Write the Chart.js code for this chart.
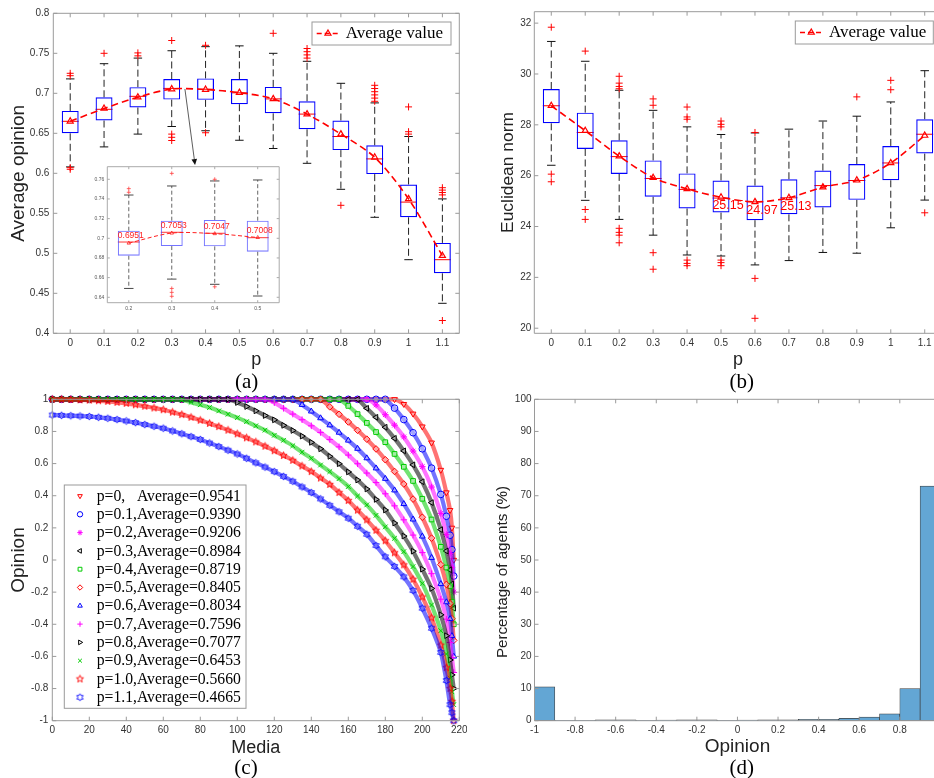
<!DOCTYPE html>
<html>
<head>
<meta charset="utf-8">
<title>Opinion dynamics figure</title>
<script src="https://cdn.jsdelivr.net/npm/chart.js@4.4.1/dist/chart.umd.min.js"></script>
<style>
  html, body { margin:0; padding:0; background:#ffffff; overflow:hidden; }
  body { position:relative; width:934px; height:778px; }
  canvas { position:absolute; }
  .cap { position:absolute; font-family:'Liberation Serif','Times New Roman',serif; font-size:21px; color:#000;
         line-height:1; transform:translate(-50%,-50%); white-space:nowrap; }
</style>
</head>
<body>
<canvas id="chartA" width="467" height="372" style="left:0px;top:0px"></canvas>
<canvas id="chartB" width="483" height="372" style="left:467px;top:0px"></canvas>
<canvas id="chartC" width="467" height="370" style="left:0px;top:390px"></canvas>
<canvas id="chartD" width="483" height="370" style="left:467px;top:390px"></canvas>
<canvas id="chartInset" width="200" height="160" style="left:84px;top:160px"></canvas>
<div class="cap" style="left:246.7px;top:381px">(a)</div>
<div class="cap" style="left:741.7px;top:381px">(b)</div>
<div class="cap" style="left:246px;top:766.5px">(c)</div>
<div class="cap" style="left:741.7px;top:766.5px">(d)</div>
<script>
// ======================= DATA =======================
const pLabels = ['0','0.1','0.2','0.3','0.4','0.5','0.6','0.7','0.8','0.9','1','1.1'];

// (a) Average opinion vs p : box-plot statistics
const opQ1   = [0.650, 0.666, 0.6823, 0.6921, 0.6918, 0.6864, 0.675, 0.655, 0.629, 0.599, 0.545, 0.475];
const opQ3   = [0.678, 0.695, 0.7077, 0.7179, 0.7186, 0.7179, 0.708, 0.690, 0.666, 0.635, 0.586, 0.513];
const opMed  = [0.665, 0.680, 0.6962, 0.7061, 0.7051, 0.7006, 0.693, 0.674, 0.646, 0.618, 0.564, 0.492];
const opLo   = [0.608, 0.633, 0.649, 0.6585, 0.6532, 0.6413, 0.631, 0.6125, 0.580, 0.545, 0.492, 0.4375];
const opHi   = [0.718, 0.737, 0.744, 0.7532, 0.7583, 0.7593, 0.750, 0.740, 0.7125, 0.688, 0.646, 0.568];
const opMean = [0.665, 0.681, 0.6951, 0.7053, 0.7047, 0.7008, 0.693, 0.674, 0.649, 0.620, 0.568, 0.497];
const opOut  = [[0.725,0.722,0.607,0.605],[0.750],[0.7505,0.7468],[0.766,0.649,0.645,0.641],[0.760,0.6507],[],
                [0.775],[0.756,0.752,0.748,0.744],[0.560],[0.710,0.706,0.702,0.698,0.694,0.690],
                [0.683,0.652,0.649],[0.582,0.579,0.576,0.573,0.416]];
const opTicks = [0.4,0.45,0.5,0.55,0.6,0.65,0.7,0.75,0.8];
const insetIdx = [2,3,4,5];
const insetTicks = [0.64,0.66,0.68,0.7,0.72,0.74,0.76];
const arrowFrom = [3.39, 0.7054];
const arrowTo = [3.69, 0.6104];

// (b) Euclidean norm vs p : box-plot statistics
const enQ1   = [28.06, 27.05, 26.07, 25.17, 24.71, 24.55, 24.25, 24.48, 24.75, 25.05, 25.82, 26.87];
const enQ3   = [29.41, 28.48, 27.39, 26.60, 26.09, 25.81, 25.61, 25.86, 26.20, 26.46, 27.17, 28.22];
const enMed  = [28.75, 27.70, 26.75, 25.89, 25.46, 25.12, 24.97, 25.13, 25.61, 25.81, 26.50, 27.63];
const enLo   = [26.41, 25.03, 24.28, 23.66, 22.88, 22.84, 22.49, 22.66, 22.98, 22.95, 23.95, 25.04];
const enHi   = [31.28, 30.50, 29.36, 28.57, 27.92, 27.62, 27.68, 27.83, 28.15, 28.34, 28.90, 30.13];
const enMean = [28.75, 27.77, 26.77, 25.92, 25.48, 25.15, 24.97, 25.13, 25.55, 25.82, 26.50, 27.58];
const enOut  = [[31.84,26.06,25.76],[30.90,24.67,24.28],[29.91,29.64,29.51,29.42,23.93,23.77,23.66,23.36],
                [29.02,28.77,22.97,22.32],[28.70,28.31,28.22,22.68,22.55,22.46],[28.15,28.02,27.92,22.68,22.58,22.46],
                [27.70,21.96,20.39],[],[],[29.10],[29.75,29.38],[24.54]];
const enTicks = [20,22,24,26,28,30,32];
const enLabelIdx = [5,6,7];

// (c) Opinion of each media, for each p
const media = [0,5,10,15,20,25,30,35,40,45,50,55,60,65,70,75,80,85,90,95,100,105,110,115,120,125,130,135,140,145,
               150,155,160,165,170,175,180,185,190,195,200,205,210,213,215,216,217];
const curveP00 = [1,1,1,1,1,1,1,1,1,1, 1,1,1,1,1,1,1,1,1,1, 1,1,1,1,1,1,1,1,1,1, 1,1,1,1,1,1,1,1,
                  0.97,0.91,0.83,0.73,0.56,0.42,0.31,0.2,0.0];
const curveP01 = [1,1,1,1,1,1,1,1,1,1, 1,1,1,1,1,1,1,1,1,1, 1,1,1,1,1,1,1,1,1,1, 1,1,1,1,1,1,1,
                  0.945,0.874,0.792,0.692,0.572,0.408,0.272,0.154,0.065,-0.1];
const curveP02 = [1,1,1,1,1,1,1,1,1,1, 1,1,1,1,1,1,1,1,1,1, 1,1,1,1,1,1,1,1,1,1, 1,1,1,1,1,
                  0.965,0.904,0.839,0.766,0.678,0.581,0.454,0.29,0.158,0.042,-0.046,-0.2];
const curveP03 = [1,1,1,1,1,1,1,1,1,1, 1,1,1,1,1,1,1,1,1,1, 1,1,1,1,1,1,1,1,1,1, 1,1,1,1,
                  0.944,0.888,0.826,0.757,0.679,0.592,0.487,0.357,0.189,0.056,-0.061,-0.149,-0.3];
const curveP04 = [1,1,1,1,1,1,1,1,1,1, 1,1,1,1,1,1,1,1,1,1, 1,1,1,1,1,1,1,1,1,1, 1,1,
                  0.959,0.908,0.853,0.796,0.733,0.66,0.58,0.492,0.381,0.252,0.082,-0.047,-0.163,-0.26,-0.4];
const curveP05 = [1,1,1,1,1,1,1,1,1,1, 1,1,1,1,1,1,1,1,1,1, 1,1,1,1,1,1,1,1,1,1,
                  0.953,0.907,0.859,0.807,0.752,0.691,0.624,0.551,0.473,0.379,0.266,0.136,-0.029,-0.152,-0.272,-0.365,-0.5];
const curveP06 = [1,1,1,1,1,1,1,1,1,1, 1,1,1,1,1,1,1,1,1,1, 1,1,1,1,1,1,1,
                  0.966,0.925,0.883,0.839,0.793,0.744,0.693,0.634,0.571,0.506,0.434,0.349,0.253,0.147,0.014,-0.149,
                  -0.262,-0.366,-0.472,-0.6];
const curveP07 = [1,1,1,1,1,1,1,1,1,1, 1,1,1,1,1,1,1,1,1,1, 1,1,1,1,
                  0.979,0.944,0.908,0.873,0.835,0.794,0.75,0.704,0.653,0.599,0.541,0.482,0.412,0.337,0.25,0.155,0.046,
                  -0.085,-0.244,-0.368,-0.513,-0.607,-0.7];
const curveP08 = [1,1,1,1,1,1,1,1,1,1, 1,1,1,1,1,1,1,1,1,1,
                  0.98,0.955,0.928,0.899,0.872,0.838,0.806,0.771,0.732,0.692,0.645,0.599,0.548,0.498,0.442,0.377,0.311,
                  0.23,0.149,0.055,-0.057,-0.177,-0.341,-0.471,-0.622,-0.715,-0.8];
const curveP09 = [1,1,1,1,1,1,1,1,1,1, 1,1,1,1,
                  0.997,0.981,0.966,0.949,0.928,0.907,0.886,0.861,0.835,0.808,0.776,0.745,0.711,0.671,0.633,0.591,0.55,
                  0.506,0.457,0.398,0.343,0.278,0.206,0.135,0.052,-0.041,-0.146,-0.28,-0.44,-0.585,-0.735,-0.82,-0.9];
const curveP10 = [1,1,0.999,0.997,0.995,0.991,0.987,0.981,0.975,0.966,0.957,0.946,0.935,0.92,0.905,0.888,0.87,0.85,
                  0.83,0.808,0.785,0.76,0.735,0.708,0.68,0.65,0.62,0.585,0.55,0.51,0.47,0.42,0.37,0.31,0.25,0.185,0.12,
                  0.045,-0.03,-0.12,-0.23,-0.36,-0.53,-0.67,-0.8,-0.88,-1.0];
const curveP11 = [0.902,0.900,0.898,0.896,0.893,0.888,0.882,0.874,0.865,0.855,0.843,0.832,0.82,0.803,0.786,0.768,0.75,
                  0.728,0.706,0.683,0.66,0.633,0.605,0.578,0.55,0.52,0.49,0.455,0.42,0.38,0.34,0.30,0.26,0.21,0.16,
                  0.09,0.02,-0.04,-0.105,-0.19,-0.30,-0.425,-0.575,-0.75,-0.9,-0.95,-1.0];
const cLegendText = ['p=0,   Average=0.9541','p=0.1,Average=0.9390','p=0.2,Average=0.9206','p=0.3,Average=0.8984',
                     'p=0.4,Average=0.8719','p=0.5,Average=0.8405','p=0.6,Average=0.8034','p=0.7,Average=0.7596',
                     'p=0.8,Average=0.7077','p=0.9,Average=0.6453','p=1.0,Average=0.5660','p=1.1,Average=0.4665'];
const cTicksX = [0,20,40,60,80,100,120,140,160,180,200,220];
const cTicksY = [-1,-0.8,-0.6,-0.4,-0.2,0,0.2,0.4,0.6,0.8,1];

// (d) Histogram of opinions
const binCenters = [-0.95,-0.85,-0.75,-0.65,-0.55,-0.45,-0.35,-0.25,-0.15,-0.05,0.05,0.15,0.25,0.35,0.45,0.55,0.65,0.75,0.85,0.95];
const binPercent = [10.5,0.1,0.1,0.3,0.3,0.1,0.2,0.3,0.3,0.1,0.2,0.3,0.3,0.4,0.4,0.7,1.1,2.1,10.0,73.0];
const dTicksX = [-1,-0.8,-0.6,-0.4,-0.2,0,0.2,0.4,0.6,0.8,1];
const dTicksY = [0,10,20,30,40,50,60,70,80,90,100];

// ======================= STYLES / HELPERS =======================
Chart.defaults.font.family = "'Liberation Sans', Arial, Helvetica, sans-serif";
Chart.defaults.color = '#333';
Chart.defaults.animation = false;
Chart.defaults.events = [];
Chart.defaults.plugins.legend.display = false;
Chart.defaults.plugins.tooltip.enabled = false;

const fmt = v => String(Math.round(v * 1e6) / 1e6);
function sizeFit(size) {
  return s => {
    if (s.isHorizontal()) { s.height = size; s.paddingLeft = 0; s.paddingRight = 0; }
    else { s.width = size; s.paddingTop = 0; s.paddingBottom = 0; }
  };
}
function titleCfg(o) {
  return o.title ? {display: true, text: o.title, font: {size: o.tfs}, color: '#222', padding: o.tpad} : {display: false};
}
function linAxis(o) {
  return {
    type: 'linear', min: o.min, max: o.max, bounds: 'data', offset: false,
    grid: {display: false, drawTicks: false}, border: {display: false},
    ticks: {padding: o.pad, font: {size: o.fs || 10}, color: o.tc || '#333', autoSkip: false,
            maxRotation: 0, minRotation: 0, callback: fmt},
    afterBuildTicks: s => { s.ticks = o.ticks.map(v => ({value: v})); },
    title: titleCfg(o),
    afterFit: sizeFit(o.size)
  };
}
function catAxis(o) {
  return {
    type: 'category', labels: o.labels, offset: true,
    grid: {display: false, drawTicks: false, offset: false}, border: {display: false},
    ticks: {padding: o.pad, font: {size: o.fs || 10}, color: o.tc || '#333', autoSkip: false, maxRotation: 0, minRotation: 0},
    title: titleCfg(o),
    afterFit: sizeFit(o.size)
  };
}
function outlierPts(labels, lists) {
  const pts = [];
  lists.forEach((vals, i) => vals.forEach(v => pts.push({x: labels[i], y: v})));
  return pts;
}
function drawMarker(ctx, style, rot, r, x, y, color, lw) {
  ctx.save();
  ctx.strokeStyle = color; ctx.fillStyle = 'rgba(0,0,0,0)'; ctx.lineWidth = lw || 1;
  if (Chart.helpers && Chart.helpers.drawPoint) {
    Chart.helpers.drawPoint(ctx, {pointStyle: style, rotation: rot, radius: r, borderWidth: lw || 1}, x, y);
  } else {
    ctx.beginPath(); ctx.arc(x, y, r, 0, Math.PI * 2); ctx.stroke();
  }
  ctx.restore();
}
function starImage(points, outer, inner, color) {
  const size = Math.ceil(outer * 2 + 3);
  const c = document.createElement('canvas'); c.width = size; c.height = size;
  const g = c.getContext('2d'); g.strokeStyle = color; g.lineWidth = 0.9;
  g.beginPath();
  for (let k = 0; k < points * 2; k++) {
    const r = k % 2 ? inner : outer;
    const ang = -Math.PI / 2 + k * Math.PI / points;
    const px = size / 2 + r * Math.cos(ang), py = size / 2 + r * Math.sin(ang);
    if (k === 0) g.moveTo(px, py); else g.lineTo(px, py);
  }
  g.closePath(); g.stroke();
  return c;
}
function withAlpha(hex, a) {
  const n = parseInt(hex.slice(1), 16);
  return 'rgba(' + ((n >> 16) & 255) + ',' + ((n >> 8) & 255) + ',' + (n & 255) + ',' + a + ')';
}

// Matlab-like frame with inward ticks on all sides
function makeFrame(color, tickLen) {
  return {
    id: 'mframe',
    afterDatasetsDraw(chart) {
      const {ctx, chartArea: a} = chart;
      const xs = chart.scales.x, ys = chart.scales.y;
      ctx.save();
      ctx.strokeStyle = color; ctx.lineWidth = 1;
      ctx.beginPath();
      ctx.rect(a.left, a.top, a.right - a.left, a.bottom - a.top);
      xs.ticks.forEach((t, i) => {
        const px = xs.getPixelForTick(i);
        ctx.moveTo(px, a.bottom); ctx.lineTo(px, a.bottom - tickLen);
        ctx.moveTo(px, a.top); ctx.lineTo(px, a.top + tickLen);
      });
      ys.ticks.forEach((t, i) => {
        const py = ys.getPixelForTick(i);
        ctx.moveTo(a.left, py); ctx.lineTo(a.left + tickLen, py);
        ctx.moveTo(a.right, py); ctx.lineTo(a.right - tickLen, py);
      });
      ctx.stroke();
      ctx.restore();
    }
  };
}

// whiskers, caps and medians of box plots (boxes themselves are floating bars)
function makeBoxPlugin(st) {
  return {
    id: 'boxWhisk',
    beforeDatasetsDraw(chart) {
      const {ctx} = chart;
      const xs = chart.scales.x, ys = chart.scales.y;
      const step = xs.getPixelForValue(1) - xs.getPixelForValue(0);
      const seg = (x1, y1, x2, y2) => { ctx.beginPath(); ctx.moveTo(x1, y1); ctx.lineTo(x2, y2); ctx.stroke(); };
      ctx.save();
      ctx.lineWidth = st.lw;
      for (let i = 0; i < st.q1.length; i++) {
        const cx = xs.getPixelForValue(i);
        const yq1 = ys.getPixelForValue(st.q1[i]), yq3 = ys.getPixelForValue(st.q3[i]);
        const ylo = ys.getPixelForValue(st.lo[i]), yhi = ys.getPixelForValue(st.hi[i]);
        ctx.strokeStyle = st.whisk; ctx.setLineDash(st.dash);
        seg(cx, yq3, cx, yhi); seg(cx, yq1, cx, ylo);
        ctx.setLineDash([]);
        ctx.strokeStyle = st.capColor;
        const cw = step * st.cap / 2;
        seg(cx - cw, yhi, cx + cw, yhi); seg(cx - cw, ylo, cx + cw, ylo);
        const bw = step * st.box / 2;
        ctx.strokeStyle = st.medColor;
        const ym = ys.getPixelForValue(st.med[i]);
        seg(cx - bw, ym, cx + bw, ym);
      }
      ctx.restore();
    }
  };
}

function makeAvgLegend(dx, dy, w, h) {
  return {
    id: 'avgLegend',
    afterDraw(chart) {
      const {ctx, chartArea: a} = chart;
      const x0 = a.right - dx - w, y0 = a.top + dy, cy = y0 + h / 2;
      ctx.save();
      ctx.fillStyle = '#fff'; ctx.fillRect(x0, y0, w, h);
      ctx.strokeStyle = '#9a9a9a'; ctx.lineWidth = 1; ctx.strokeRect(x0, y0, w, h);
      ctx.strokeStyle = '#ff0000'; ctx.lineWidth = 1.5; ctx.setLineDash([5, 3]);
      ctx.beginPath(); ctx.moveTo(x0 + 4.7, cy); ctx.lineTo(x0 + 27.3, cy); ctx.stroke();
      ctx.setLineDash([]);
      drawMarker(ctx, 'triangle', 0, 3.5, x0 + 16, cy, '#ff0000', 1.2);
      ctx.fillStyle = '#000'; ctx.font = "17px 'Liberation Serif', 'Times New Roman', serif";
      ctx.textBaseline = 'middle'; ctx.textAlign = 'left';
      ctx.fillText('Average value', x0 + 33.7, cy + 0.5);
      ctx.restore();
    }
  };
}

// ======================= (a) =======================
const arrowPlugin = {
  id: 'arrowA',
  afterDatasetsDraw(chart) {
    const {ctx} = chart; const xs = chart.scales.x, ys = chart.scales.y;
    const x0 = xs.getPixelForValue(arrowFrom[0]), y0 = ys.getPixelForValue(arrowFrom[1]);
    const x1 = xs.getPixelForValue(arrowTo[0]), y1 = ys.getPixelForValue(arrowTo[1]);
    const ang = Math.atan2(y1 - y0, x1 - x0), L = 6, W = 2.8;
    const bx = x1 - L * Math.cos(ang), by = y1 - L * Math.sin(ang);
    ctx.save();
    ctx.strokeStyle = '#333'; ctx.fillStyle = '#111'; ctx.lineWidth = 0.8;
    ctx.beginPath(); ctx.moveTo(x0, y0); ctx.lineTo(bx, by); ctx.stroke();
    ctx.beginPath(); ctx.moveTo(x1, y1);
    ctx.lineTo(bx + W * Math.sin(ang), by - W * Math.cos(ang));
    ctx.lineTo(bx - W * Math.sin(ang), by + W * Math.cos(ang));
    ctx.closePath(); ctx.fill();
    ctx.restore();
  }
};

new Chart(document.getElementById('chartA'), {
  type: 'bar',
  data: {
    labels: pLabels,
    datasets: [
      {type: 'bar', data: pLabels.map((_, i) => [opQ1[i], opQ3[i]]), backgroundColor: 'rgba(0,0,0,0)',
       borderColor: '#0000ff', borderWidth: 1.2, borderSkipped: false, barPercentage: 0.5, categoryPercentage: 1, order: 2},
      {type: 'line', data: opMean, borderColor: '#ff0000', borderWidth: 1.6, borderDash: [7, 4], tension: 0.3, fill: false,
       pointStyle: 'triangle', pointRadius: 3.5, pointBorderColor: '#ff0000', pointBackgroundColor: 'rgba(0,0,0,0)',
       pointBorderWidth: 1.2, order: 0},
      {type: 'line', data: outlierPts(pLabels, opOut), showLine: false, pointStyle: 'cross', pointRadius: 3.5,
       pointBorderColor: '#ff0000', pointBorderWidth: 1, order: 1}
    ]
  },
  options: {
    responsive: false, devicePixelRatio: 1,
    layout: {padding: {left: 0, top: 13.3, right: 7.7, bottom: 0}},
    scales: {
      x: catAxis({labels: pLabels, size: 38.7, pad: 4, title: 'p', tfs: 18, tpad: {top: 0, bottom: 1.6}}),
      y: linAxis({min: 0.4, max: 0.8, ticks: opTicks, size: 53.3, pad: 4, title: 'Average opinion', tfs: 19,
                  tpad: {top: 6.9, bottom: 0}})
    }
  },
  plugins: [makeBoxPlugin({q1: opQ1, q3: opQ3, med: opMed, lo: opLo, hi: opHi, box: 0.5, cap: 0.25, lw: 1,
                           whisk: '#222', capColor: '#111', medColor: '#ff0000', dash: [7, 3.5]}),
            makeFrame('#9a9a9a', 4), arrowPlugin, makeAvgLegend(8.3, 8.7, 139, 23)]
});

// ----- inset of (a) -----
const insetLabels = insetIdx.map(i => pLabels[i]);
const insetMeanPlugin = {
  id: 'insetMean',
  beforeDraw(chart) {
    const {ctx, chartArea: a} = chart;
    ctx.save(); ctx.fillStyle = '#fff'; ctx.fillRect(a.left, a.top, a.right - a.left, a.bottom - a.top); ctx.restore();
  },
  afterDatasetsDraw(chart) {
    const {ctx} = chart; const xs = chart.scales.x, ys = chart.scales.y;
    ctx.save();
    ctx.fillStyle = '#ff2020'; ctx.font = "8.5px 'Liberation Sans', Arial, sans-serif";
    ctx.textAlign = 'center'; ctx.textBaseline = 'middle';
    insetIdx.forEach((src, i) => {
      ctx.fillText(opMean[src].toFixed(4), xs.getPixelForValue(i) + 2, ys.getPixelForValue(opMean[src]) - 7.3);
    });
    ctx.restore();
  }
};
new Chart(document.getElementById('chartInset'), {
  type: 'bar',
  data: {
    labels: insetLabels,
    datasets: [
      {type: 'bar', data: insetIdx.map(i => [opQ1[i], opQ3[i]]), backgroundColor: 'rgba(0,0,0,0)',
       borderColor: 'rgba(70,70,255,0.75)', borderWidth: 1.1, borderSkipped: false, barPercentage: 0.51, categoryPercentage: 1, order: 2},
      {type: 'line', data: insetIdx.map(i => opMean[i]), borderColor: '#ff2020', borderWidth: 1, borderDash: [4, 2.5],
       tension: 0.3, fill: false, pointStyle: 'triangle', pointRadius: 2, pointBorderColor: '#ff2020',
       pointBackgroundColor: 'rgba(0,0,0,0)', pointBorderWidth: 0.8, order: 0},
      {type: 'line', data: outlierPts(insetLabels, insetIdx.map(i => opOut[i])), showLine: false, pointStyle: 'cross',
       pointRadius: 2, pointBorderColor: '#ff4040', pointBorderWidth: 0.8, order: 1}
    ]
  },
  options: {
    responsive: false, devicePixelRatio: 1,
    layout: {padding: {left: 0, top: 6.7, right: 4.7, bottom: 0}},
    scales: {
      x: catAxis({labels: insetLabels, size: 17.3, pad: 2.6, fs: 5, tc: '#555'}),
      y: linAxis({min: 0.6345, max: 0.7728, ticks: insetTicks, size: 23.3, pad: 3, fs: 5, tc: '#555'})
    }
  },
  plugins: [insetMeanPlugin,
            makeBoxPlugin({q1: insetIdx.map(i => opQ1[i]), q3: insetIdx.map(i => opQ3[i]), med: insetIdx.map(i => opMed[i]),
                           lo: insetIdx.map(i => opLo[i]), hi: insetIdx.map(i => opHi[i]), box: 0.51, cap: 0.22, lw: 0.9,
                           whisk: '#555', capColor: '#333', medColor: '#ff2020', dash: [4, 2.5]}),
            makeFrame('#aaaaaa', 2.5)]
});

// ======================= (b) =======================
const enLabelPlugin = {
  id: 'enLabels',
  afterDatasetsDraw(chart) {
    const {ctx} = chart; const xs = chart.scales.x, ys = chart.scales.y;
    ctx.save();
    ctx.fillStyle = '#ff0000'; ctx.font = "12.5px 'Liberation Sans', Arial, sans-serif";
    ctx.textAlign = 'center'; ctx.textBaseline = 'middle';
    enLabelIdx.forEach(i => ctx.fillText(enMean[i].toFixed(2), xs.getPixelForValue(i) + 7, ys.getPixelForValue(enMean[i]) + 8.5));
    ctx.restore();
  }
};
new Chart(document.getElementById('chartB'), {
  type: 'bar',
  data: {
    labels: pLabels,
    datasets: [
      {type: 'bar', data: pLabels.map((_, i) => [enQ1[i], enQ3[i]]), backgroundColor: 'rgba(0,0,0,0)',
       borderColor: '#0000ff', borderWidth: 1.2, borderSkipped: false, barPercentage: 0.5, categoryPercentage: 1, order: 2},
      {type: 'line', data: enMean, borderColor: '#ff0000', borderWidth: 1.6, borderDash: [7, 4], tension: 0.3, fill: false,
       pointStyle: 'triangle', pointRadius: 3.5, pointBorderColor: '#ff0000', pointBackgroundColor: 'rgba(0,0,0,0)',
       pointBorderWidth: 1.2, order: 0},
      {type: 'line', data: outlierPts(pLabels, enOut), showLine: false, pointStyle: 'cross', pointRadius: 3.5,
       pointBorderColor: '#ff0000', pointBorderWidth: 1, order: 1}
    ]
  },
  options: {
    responsive: false, devicePixelRatio: 1,
    layout: {padding: {left: 0, top: 11.7, right: 8.3, bottom: 0}},
    scales: {
      x: catAxis({labels: pLabels, size: 38.7, pad: 4, title: 'p', tfs: 18, tpad: {top: 0, bottom: 1.6}}),
      y: linAxis({min: 19.8, max: 32.45, ticks: enTicks, size: 67.3, pad: 3, title: 'Euclidean norm', tfs: 17.4,
                  tpad: {top: 30.9, bottom: 0}})
    }
  },
  plugins: [makeBoxPlugin({q1: enQ1, q3: enQ3, med: enMed, lo: enLo, hi: enHi, box: 0.5, cap: 0.25, lw: 1,
                           whisk: '#222', capColor: '#111', medColor: '#ff0000', dash: [7, 3.5]}),
            makeFrame('#9a9a9a', 4), enLabelPlugin, makeAvgLegend(8.4, 9.3, 138, 23)]
});

// ======================= (c) =======================
const pentaRed = starImage(5, 3.8, 1.6, '#ff0000');
const hexaBlue = starImage(6, 3.6, 2.1, '#0000ff');
const cSeries = [curveP00, curveP01, curveP02, curveP03, curveP04, curveP05, curveP06, curveP07, curveP08, curveP09, curveP10, curveP11];
const cColors = ['#ff0000','#0000ff','#ff00ff','#000000','#00cc00','#ff0000','#0000ff','#ff00ff','#000000','#00cc00','#ff0000','#0000ff'];
const cStyles = ['triangle','circle','star','triangle','rect','rectRot','triangle','cross','triangle','crossRot', pentaRed, hexaBlue];
const cRot    = [180, 0, 0, 270, 0, 0, 0, 0, 90, 0, 0, 0];
const cLegendPlugin = {
  id: 'cLegend',
  afterDraw(chart) {
    const {ctx, chartArea: a} = chart;
    const w = 181.7, h = 223.3, x0 = a.left + 12, y0 = a.bottom - 12.4 - h;
    ctx.save();
    ctx.fillStyle = '#fff'; ctx.fillRect(x0, y0, w, h);
    ctx.strokeStyle = '#9a9a9a'; ctx.lineWidth = 1; ctx.strokeRect(x0, y0, w, h);
    ctx.font = "15.7px 'Liberation Serif', 'Times New Roman', serif";
    ctx.textBaseline = 'middle'; ctx.textAlign = 'left';
    cLegendText.forEach((t, k) => {
      const cy = y0 + 11 + k * 18.3;
      drawMarker(ctx, cStyles[k], cRot[k], 2.7, x0 + 15.7, cy, cColors[k], 1);
      ctx.fillStyle = '#000';
      ctx.fillText(t, x0 + 32.4, cy + 0.5);
    });
    ctx.restore();
  }
};
new Chart(document.getElementById('chartC'), {
  type: 'line',
  data: {
    datasets: cSeries.map((vals, k) => ({
      data: media.map((m, i) => ({x: m, y: vals[i]})),
      borderColor: withAlpha(cColors[k], 0.55), borderWidth: 4.2, tension: 0.2, fill: false, clip: false,
      pointStyle: cStyles[k], pointRotation: cRot[k], pointRadius: 3.3,
      pointBorderColor: cColors[k], pointBackgroundColor: 'rgba(255,255,255,0.35)', pointBorderWidth: 1,
      order: 11 - k
    }))
  },
  options: {
    responsive: false, devicePixelRatio: 1,
    layout: {padding: {left: 0, top: 9.3, right: 7.7, bottom: 0}},
    scales: {
      x: linAxis({min: 0, max: 220, ticks: cTicksX, size: 39.3, pad: 3.3, title: 'Media', tfs: 18, tpad: {top: 0, bottom: 1.6}}),
      y: linAxis({min: -1, max: 1, ticks: cTicksY, size: 52.3, pad: 4, title: 'Opinion', tfs: 19, tpad: {top: 7.8, bottom: 0}})
    }
  },
  plugins: [makeFrame('#9a9a9a', 4), cLegendPlugin]
});

// ======================= (d) =======================
const dYTitlePlugin = {
  id: 'dYTitle',
  afterDraw(chart) {
    const {ctx, chartArea: a} = chart;
    ctx.save();
    ctx.translate(a.left - 31.2, (a.top + a.bottom) / 2 + 12);
    ctx.rotate(-Math.PI / 2);
    ctx.fillStyle = '#222'; ctx.font = "15.2px 'Liberation Sans', Arial, sans-serif";
    ctx.textAlign = 'center'; ctx.textBaseline = 'middle';
    ctx.fillText('Percentage of agents (%)', 0, 0);
    ctx.restore();
  }
};
new Chart(document.getElementById('chartD'), {
  type: 'bar',
  data: {
    datasets: [{
      data: binCenters.map((c, i) => ({x: c, y: binPercent[i]})),
      backgroundColor: 'rgb(99,166,212)', borderColor: 'rgba(30,30,30,0.85)', borderWidth: 0.7, borderSkipped: false,
      barPercentage: 1, categoryPercentage: 1
    }]
  },
  options: {
    responsive: false, devicePixelRatio: 1,
    layout: {padding: {left: 0, top: 9.3, right: 9.6, bottom: 0}},
    scales: {
      x: linAxis({min: -1, max: 1, ticks: dTicksX, size: 39.3, pad: 3.3, title: 'Opinion', tfs: 19, tpad: {top: 0, bottom: 1.6}}),
      y: linAxis({min: 0, max: 100, ticks: dTicksY, size: 67.5, pad: 3})
    }
  },
  plugins: [makeFrame('#9a9a9a', 4), dYTitlePlugin]
});
</script>
</body>
</html>
